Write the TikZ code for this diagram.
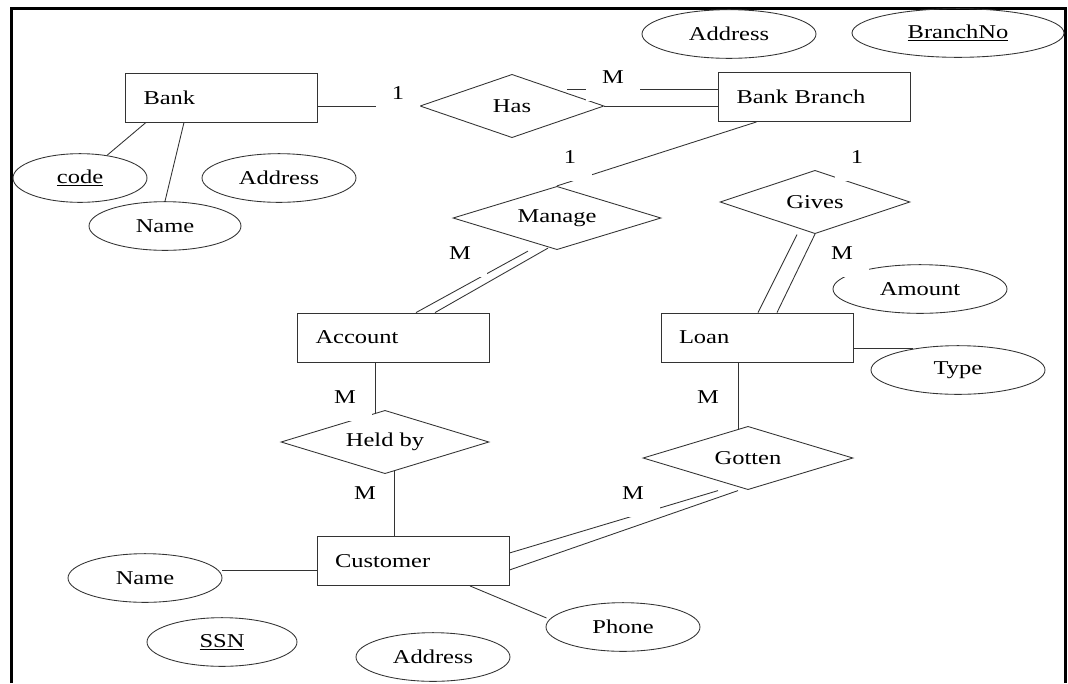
\documentclass[tikz,border=0pt]{standalone}
\usepackage{fontspec}
\setmainfont{Liberation Serif}[FakeStretch=1.25]
\usetikzlibrary{shapes.geometric}
\begin{document}
\begin{tikzpicture}[x=0.75pt, y=-0.75pt, line width=0.65pt, draw=black!80,
    font=\fontsize{14.7}{17}\selectfont,
    entity/.style={draw, rectangle, minimum width=144pt, minimum height=36.75pt,
      text width=117pt, inner xsep=13.5pt, inner ysep=0pt, align=left},
    rel/.style={draw, diamond, aspect=3.3, inner sep=0pt,
      minimum width=156pt, minimum height=47.5pt},
    attr/.style={draw, ellipse, inner sep=0pt, minimum width=115.5pt, minimum height=36.5pt},
    mult/.style={fill=white, anchor=base, inner xsep=12pt, inner ysep=0pt,
      text height=13.5pt, text depth=12.75pt}]
    \fill [white] (0,0) rectangle (1068,683);
    \useasboundingbox (0,0) rectangle (1068,683);
    \draw [line width=2.25pt, black] (11.3,683) -- (11.3,8.3) -- (1065.5,8.3) -- (1065.5,683);
    % entities
    \path (221.5,97.5) node (bank) [entity] {Bank}
    (814.5,97) node (branch) [entity] {Bank Branch}
    (393.5,337.5) node (account) [entity] {Account}
    (757,337.5) node (loan) [entity] {Loan}
    (413,561) node (customer) [entity] {Customer};
    % relationships
    \path (512,106) node (has) [rel, minimum width=138pt] {Has}
    (557,218) node (manage) [rel] {Manage}
    (815,202) node (gives) [rel, minimum width=142.5pt] {Gives}
    (385,442) node (heldby) [rel] {Held by}
    (748,458) node (gotten) [rel, minimum width=157.5pt] {Gotten};
    % attributes
    \path (80,178) node (code) [attr, minimum width=100.5pt] {\underline{code}}
    (279,178) node (baddr) [attr] {Address}
    (165,226) node (bname) [attr, minimum width=114pt] {Name}
    (729,34) node (braddr) [attr, minimum width=130.5pt] {Address}
    (958,33) node (branchno) [attr, minimum width=159pt] {\underline{BranchNo}}
    (920,289) node (amount) [attr, minimum width=130.5pt] {Amount}
    (958,370) node (type) [attr, minimum width=130.5pt] {Type}
    (145,578) node (cname) [attr] {Name}
    (222,642) node (ssn) [attr, minimum width=112.5pt] {\underline{SSN}}
    (433,657) node (caddr) [attr] {Address}
    (623,627) node (phone) [attr] {Phone};
    % links
    \draw ([shift={(-75.5,0)}]bank.south) -- (code.40);
    \draw ([shift={(-37.5,0)}]bank.south) -- (bname.north);
    \draw (has.west -| bank.east) -- (has.west);
    \draw ([shift={(-37,-17)}]has.east) -- ([shift={(0,-8)}]branch.west);
    \draw (has.east) -- (has.east -| branch.west);
    \draw ([shift={(-58,0)}]branch.south) -- (manage.north);
    \draw ([shift={(-29,1)}]manage.south) -- ([shift={(22.5,0)}]account.north);
    \draw ([shift={(-9,-2)}]manage.south) -- ([shift={(41.5,0)}]account.north);
    \draw ([shift={(-18,0.5)}]gives.south) -- ([shift={(1,0)}]loan.north);
    \draw (gives.south) -- ([shift={(20,0)}]loan.north);
    \draw (type.155) -- (type.155 -| loan.east);
    \draw ([shift={(-18.5,0)}]account.south) -- ([shift={(-10,3)}]heldby.north);
    \draw ([shift={(-19,0)}]customer.north) -- ([shift={(9,-2.7)}]heldby.south);
    \draw ([shift={(-19,0)}]loan.south) -- ([shift={(-10,3)}]gotten.north);
    \draw ([shift={(-30,0.5)}]gotten.south) -- ([shift={(0,-8)}]customer.east);
    \draw ([shift={(-10,0.5)}]gotten.south) -- ([shift={(0,9)}]customer.east);
    \draw ([shift={(0,9)}]customer.west) -- ([shift={(0,-8)}]cname.east);
    \draw ([shift={(57,0)}]customer.south) -- ([shift={(1,-9)}]phone.west);
    % cardinalities
    \path (398,99.5) node (m1) [mult] {1}
    (613,83.5) node (m2) [mult] {M}
    (570,163.5) node (m3) [mult] {1}
    (857,163.5) node (m4) [mult] {1}
    (460,259.5) node (m5) [mult] {M}
    (842,259.5) node (m6) [mult] {M}
    (345,403.5) node (m7) [mult] {M}
    (708,403.5) node (m8) [mult] {M}
    (365,499.5) node (m9) [mult] {M}
    (633,499.5) node (m10) [mult] {M};
\end{tikzpicture}
\end{document}
